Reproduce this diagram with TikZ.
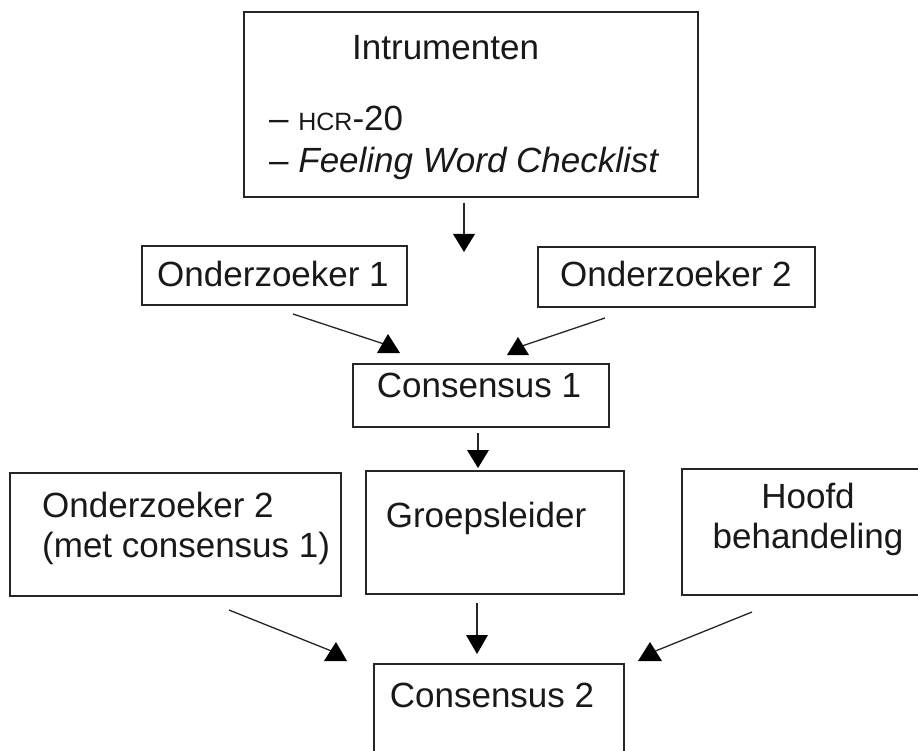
\documentclass[tikz,border=0pt]{standalone}
\usepackage{fontspec}
\setmainfont{Liberation Sans}
\begin{document}
\begin{tikzpicture}[x=1pt,y=-1pt,
  box/.style={draw=black!85, line width=1.8pt, inner sep=0pt, anchor=north west},
  lbl/.style={inner sep=0pt, font=\fontsize{35}{40}\selectfont, text=black!90},
  conn/.style={line width=1.3pt, draw=black!85},
  tipfill/.style={fill=black}]
\clip (0,0) rectangle (918,751);
\fill[white] (0,0) rectangle (918,751);
% boxes
\node[box, minimum width=454pt, minimum height=185pt] (instr) at (243,11) {};
\node[box, minimum width=265pt, minimum height=59pt] (o1) at (141,245) {};
\node[box, minimum width=277pt, minimum height=60pt] (o2) at (537,246) {};
\node[box, minimum width=256pt, minimum height=63pt] (c1) at (352,363) {};
\node[box, minimum width=331pt, minimum height=123pt] (o2b) at (9,472) {};
\node[box, minimum width=258pt, minimum height=123pt] (gl) at (365,470) {};
\node[box, minimum width=253pt, minimum height=126pt] (hb) at (681,468) {};
\node[box, minimum width=250pt, minimum height=120pt] (c2) at (373,663) {};
% texts
\node[lbl, anchor=base west] (t-instr) at (352,60) {Intrumenten};
\node[lbl, anchor=base west] (t-hcr) at (269,131) {– {\fontsize{25}{30}\selectfont HCR}-20};
\node[lbl, anchor=base west] (t-fwc) at (269,173) {– \textit{Feeling Word Checklist}};
\node[lbl, anchor=base] (t-o1) at (273,287) {Onderzoeker 1};
\node[lbl, anchor=base] (t-o2) at (676,287) {Onderzoeker 2};
\node[lbl, anchor=base] (t-c1) at (479,397) {Consensus 1};
\node[lbl, anchor=base west] (t-o2b1) at (42,517) {Onderzoeker 2};
\node[lbl, anchor=base west] (t-o2b2) at (42,557) {(met consensus 1)};
\node[lbl, anchor=base] (t-gl) at (486,527) {Groepsleider};
\node[lbl, anchor=base] (t-hb1) at (808,508) {Hoofd};
\node[lbl, anchor=base] (t-hb2) at (808,548) {behandeling};
\node[lbl, anchor=base] (t-c2) at (492,707) {Consensus 2};
% connector end points
\coordinate (instr-out) at (464,203);
\coordinate (instr-in) at (464,236);
\coordinate (o1-out) at (293,314);
\coordinate (c1-in1) at (384,344);
\coordinate (o2-out) at (605,318);
\coordinate (c1-in2) at (522,346);
\coordinate (c1-out) at (478,433);
\coordinate (gl-in) at (478,452);
\coordinate (o2b-out) at (229,610);
\coordinate (c2-in1) at (334,652);
\coordinate (gl-out) at (477,603);
\coordinate (c2-in2) at (477,637);
\coordinate (hb-out) at (752,612);
\coordinate (c2-in3) at (653,652);
% connectors
\draw[conn] (instr-out) -- (instr-in);
\draw[conn] (o1-out) -- (c1-in1);
\draw[conn] (o2-out) -- (c1-in2);
\draw[conn] (c1-out) -- (gl-in);
\draw[conn] (o2b-out) -- (c2-in1);
\draw[conn] (gl-out) -- (c2-in2);
\draw[conn] (hb-out) -- (c2-in3);
% arrow heads
\fill[tipfill] (453,234) -- (475,234) -- (464,252) -- cycle;
\fill[tipfill] (388,334) -- (400,353) -- (377,353) -- cycle;
\fill[tipfill] (518,337) -- (529,355) -- (507,355) -- cycle;
\fill[tipfill] (467,450) -- (489,450) -- (478,468) -- cycle;
\fill[tipfill] (336,642) -- (347,661) -- (324,661) -- cycle;
\fill[tipfill] (466,635) -- (488,635) -- (477,654) -- cycle;
\fill[tipfill] (650,642) -- (662,661) -- (638,661) -- cycle;
\end{tikzpicture}
\end{document}
